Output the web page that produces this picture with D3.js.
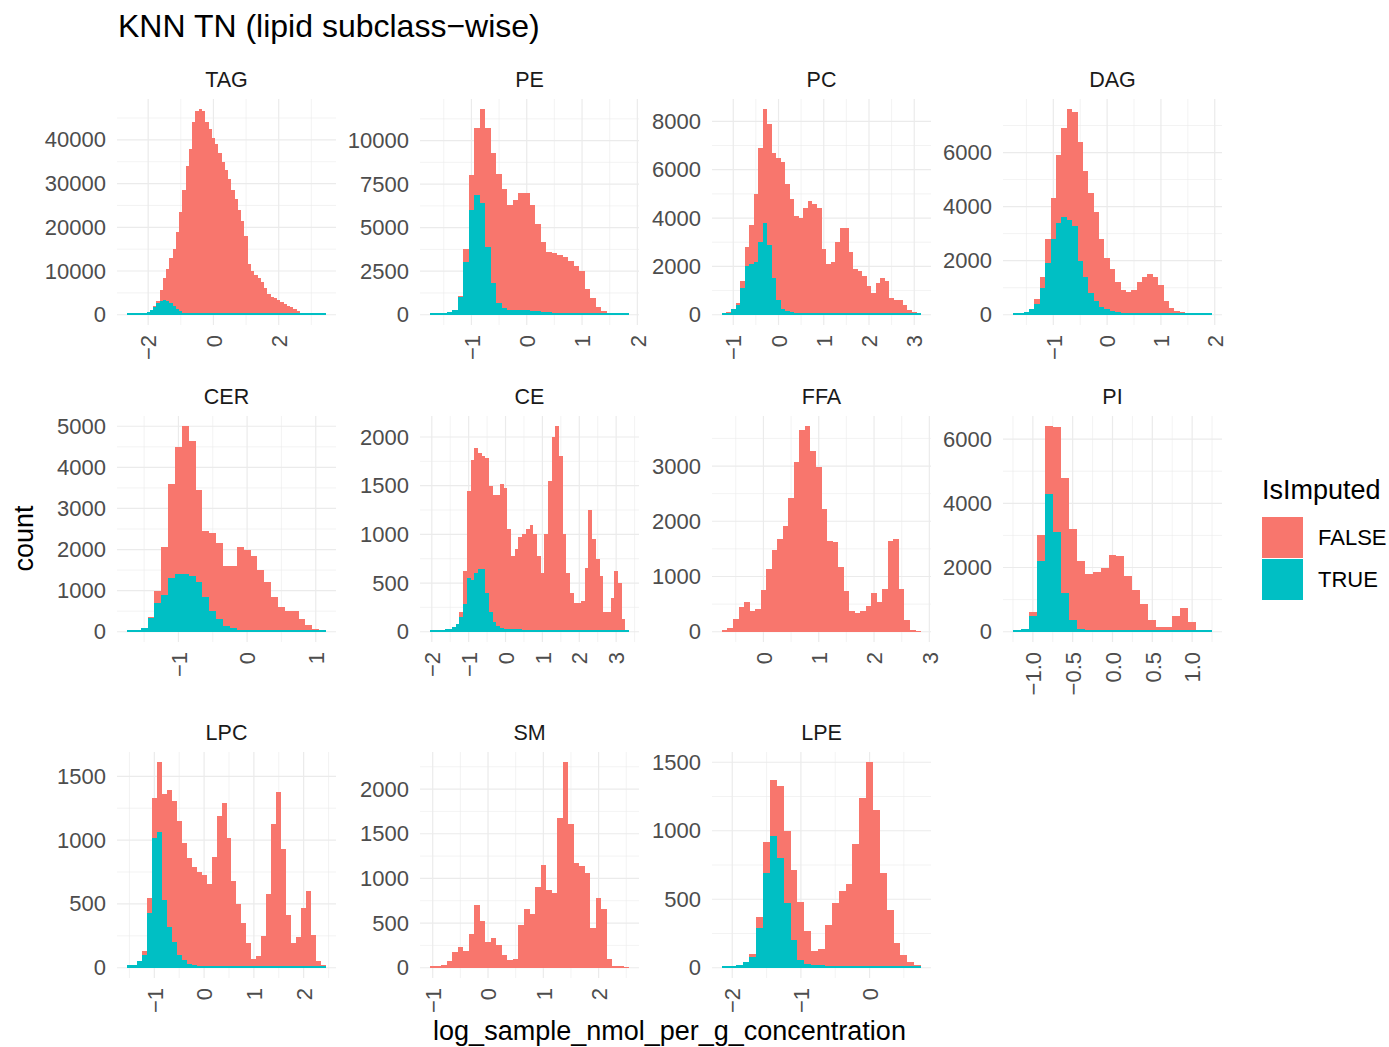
<!DOCTYPE html>
<html>
<head>
<meta charset="utf-8">
<script src="https://cdn.jsdelivr.net/npm/d3@7"></script>
<style>
  body { margin: 0; background: #fff; }
  text { font-family: "Liberation Sans", Arial, sans-serif; }
</style>
</head>
<body>
<script>
// ---- data (counts, bins are 0.1 wide) ----
var subclasses = ["TAG", "PE", "PC", "DAG", "CER", "CE", "FFA", "PI", "LPC", "SM", "LPE"];
var imputedLevels = ["FALSE", "TRUE"];
var binWidth = 0.1;
// lower edge of the first bin of each facet
var binStarts = [-2.65, -1.75, -1.25, -1.75, -1.75, -2.05, -0.75, -1.25, -1.55, -1.05, -2.15];

var tagFalse = [0,0,0,0,0,0,0,50,300,500,2400,5200,7300,10300,13000,17700,22700,28000,33700,37800,43850,46380,46900,46400,43920,42420,40440,38940,36950,34950,32950,30960,28460,26460,23970,21470,17970,11470,9970,8970,8480,7480,5980,4780,3980,3780,3380,2880,2480,2080,1680,1280,880,480,280,130,60,20,10,0,0];
var tagTrue = [50,50,80,150,250,400,600,1000,1700,2600,3200,3300,3200,2700,2000,1300,800,500,300,200,150,120,100,100,80,80,60,60,50,50,50,40,40,40,30,30,30,30,30,30,20,20,20,20,20,20,20,20,20,20,20,20,20,20,20,20,20,20,20,20,10];

var peFalse = [0,0,0,0,0,100,800,2000,3800,5400,6800,7500,7400,6800,6000,6350,6750,6750,6100,5000,4050,3450,3430,3330,3200,3000,2720,2420,1440,920,390,200,70,40,20,10];
var peTrue = [30,50,80,150,300,1000,3000,6000,6900,6400,3900,1800,700,400,300,250,250,250,200,200,150,150,120,120,100,100,80,80,60,50,40,30,30,20,20,10];

var pcFalse = [0,10,30,100,300,800,1600,2800,3900,4700,5000,5200,5900,6050,5250,4700,4020,3940,4350,4660,4560,4370,2670,2070,2170,2970,3580,3580,2580,1880,1780,1580,1180,880,1280,1480,1380,680,580,580,380,180,80,20];
var pcTrue = [30,90,220,400,1100,2000,2100,2200,3000,3800,2900,1500,600,250,150,100,80,60,50,40,40,30,30,30,30,30,20,20,20,20,20,20,20,20,20,20,20,20,20,20,20,20,20,20];

var dagFalse = [0,0,0,0,200,400,900,1500,2500,3300,4100,4200,4400,3900,3700,3300,2500,1900,1550,1100,820,790,850,1150,1360,1460,1370,1070,480,230,130,80,40,25,20,10,0];
var dagTrue = [30,60,100,200,400,1000,1900,2800,3400,3600,3500,3300,2000,1400,800,500,300,200,150,100,80,60,50,50,40,40,30,30,20,20,20,20,20,15,10,10,10];

var cerFalse = [0,0,0,40,300,1150,2300,3100,3600,3300,2250,1600,1900,1850,1450,1520,2000,1940,1820,1470,1170,820,580,480,480,300,150,40,0];
var cerTrue = [30,50,100,330,700,900,1300,1400,1400,1350,1200,850,500,300,150,80,50,40,30,30,30,30,20,20,20,20,20,20,20];

var ceFalse = [0,0,0,0,0,0,0,0,50,340,900,1230,1290,1200,1160,1380,1300,1300,1340,1480,1450,1020,750,820,940,980,1030,1080,980,760,580,980,1530,1980,2090,1780,980,580,380,280,280,300,630,1230,930,730,550,180,180,330,600,480,110,0];
var ceTrue = [20,20,20,20,25,30,50,80,150,280,550,530,600,640,640,400,200,100,60,40,30,30,30,30,30,20,20,20,20,20,20,20,20,20,20,20,20,20,20,20,20,20,20,20,20,20,20,20,20,20,20,20,20,20];

var ffaFalse = [30,70,230,450,530,370,420,750,1130,1480,1670,1920,2420,3070,3650,3720,3270,2980,2220,1650,1630,1170,730,380,340,370,470,700,530,770,1650,1670,770,220,40,20];
var ffaTrue = [0,0,0,0,0,0,0,0,0,0,0,0,0,0,0,0,0,0,0,0,0,0,0,0,0,0,0,0,0,0,0,0,0,0,0,0];

var piFalse = [0,0,120,800,2100,3280,3600,2850,2100,1750,1810,1970,2370,2320,1730,1280,830,330,130,130,480,710,280,30,0];
var piTrue = [20,80,500,2200,4300,3100,1200,350,100,50,40,30,30,30,20,20,20,20,20,20,20,20,20,20,20];

var lpcFalse = [0,0,0,30,120,310,550,830,1070,1110,1050,920,830,770,740,720,650,860,1180,1280,1010,670,490,340,180,60,80,240,570,1120,1370,920,400,180,230,460,590,250,40,10];
var lpcTrue = [20,20,50,100,430,1020,1060,530,320,200,100,60,30,20,10,10,10,10,10,10,10,10,10,10,10,10,10,10,10,10,10,10,10,10,10,10,10,10,10,10];

var smFalse = [20,20,30,70,180,230,190,380,700,520,290,330,250,140,90,100,480,660,600,900,1150,870,840,1680,2300,1610,1170,1140,1060,440,780,660,100,20,15,10];
var smTrue = [0,0,0,0,0,0,0,0,0,0,0,0,0,0,0,0,0,0,0,0,0,0,0,0,0,0,0,0,0,0,0,0,0,0,0,0];

var lpeFalse = [0,0,0,0,20,80,230,410,530,530,510,420,240,100,120,295,455,550,600,890,1230,1490,1140,680,410,170,80,30,10];
var lpeTrue = [5,10,20,40,80,290,690,960,800,470,200,60,30,20,20,15,15,10,10,10,10,10,10,10,10,10,10,10,10];

var falseCounts = [tagFalse, peFalse, pcFalse, dagFalse, cerFalse, ceFalse, ffaFalse, piFalse, lpcFalse, smFalse, lpeFalse];
var trueCounts = [tagTrue, peTrue, pcTrue, dagTrue, cerTrue, ceTrue, ffaTrue, piTrue, lpcTrue, smTrue, lpeTrue];

var xTickValues = [[-2,0,2], [-1,0,1,2], [-1,0,1,2,3], [-1,0,1,2], [-1,0,1], [-2,-1,0,1,2,3],
                   [0,1,2,3], [-1,-0.5,0,0.5,1], [-1,0,1,2], [-1,0,1,2], [-2,-1,0]];
var yTickValues = [[0,10000,20000,30000,40000], [0,2500,5000,7500,10000], [0,2000,4000,6000,8000],
                   [0,2000,4000,6000], [0,1000,2000,3000,4000,5000], [0,500,1000,1500,2000],
                   [0,1000,2000,3000], [0,2000,4000,6000], [0,500,1000,1500], [0,500,1000,1500,2000],
                   [0,500,1000,1500]];

// ---- layout ----
var colLeft = [117, 420, 712, 1003];
var rowTop = [99, 416, 752];
var panelW = 219, panelH = 226;
var gridCol = "#EBEBEB";

var svg = d3.select("body").append("svg")
  .attr("width", 1389)
  .attr("height", 1047)
  .style("display", "block");

var fill = d3.scaleOrdinal().domain(imputedLevels).range(["#F8766D", "#00BFC4"]);
var fmtInt = d3.format("d"), fmtDec = d3.format(".1f");

function minorBreaks(ticks, dom) {
  var step = ticks[1] - ticks[0], out = [];
  for (var k = -1; k < ticks.length; k++) {
    var v = ticks[0] + step * k + step / 2;
    if (v >= dom[0] && v <= dom[1]) out.push(v);
  }
  return out;
}

subclasses.forEach(function(name, p) {
  var left = colLeft[p % 4], top = rowTop[Math.floor(p / 4)];
  var fc = falseCounts[p], tc = trueCounts[p], n = fc.length;
  var x0 = binStarts[p], x1 = x0 + n * binWidth, xpad = 0.05 * (x1 - x0);
  var x = d3.scaleLinear().domain([x0 - xpad, x1 + xpad]).range([left, left + panelW]);
  var ymax = d3.max(fc, function(d, i) { return d + tc[i]; });
  var y = d3.scaleLinear().domain([-0.05 * ymax, 1.05 * ymax]).range([top + panelH, top]);
  var hasTrue = d3.max(tc) > 0;

  var g = svg.append("g");

  // grid: minor then major
  g.selectAll(".vminor").data(minorBreaks(xTickValues[p], x.domain())).enter().append("line")
    .attr("x1", function(d) { return x(d); }).attr("x2", function(d) { return x(d); })
    .attr("y1", top).attr("y2", top + panelH)
    .attr("stroke", gridCol).attr("stroke-width", 0.6);
  g.selectAll(".hminor").data(minorBreaks(yTickValues[p], y.domain())).enter().append("line")
    .attr("y1", function(d) { return y(d); }).attr("y2", function(d) { return y(d); })
    .attr("x1", left).attr("x2", left + panelW)
    .attr("stroke", gridCol).attr("stroke-width", 0.6);
  g.selectAll(".vmajor").data(xTickValues[p]).enter().append("line")
    .attr("x1", function(d) { return x(d); }).attr("x2", function(d) { return x(d); })
    .attr("y1", top).attr("y2", top + panelH)
    .attr("stroke", gridCol).attr("stroke-width", 1.2);
  g.selectAll(".hmajor").data(yTickValues[p]).enter().append("line")
    .attr("y1", function(d) { return y(d); }).attr("y2", function(d) { return y(d); })
    .attr("x1", left).attr("x2", left + panelW)
    .attr("stroke", gridCol).attr("stroke-width", 1.2);

  var bins = fc.map(function(f, i) {
    return { lo: x0 + i * binWidth, hi: x0 + (i + 1) * binWidth, f: f, t: tc[i] };
  });

  // FALSE stacked on top of TRUE
  g.selectAll(".barF").data(bins).enter().append("rect")
    .attr("x", function(d) { return x(d.lo); })
    .attr("width", function(d) { return x(d.hi) - x(d.lo); })
    .attr("y", function(d) { return y(d.t + d.f); })
    .attr("height", function(d) { return y(d.t) - y(d.t + d.f); })
    .attr("fill", fill("FALSE"))
    .attr("shape-rendering", "crispEdges");
  if (hasTrue) {
    g.selectAll(".barT").data(bins).enter().append("rect")
      .attr("x", function(d) { return x(d.lo); })
      .attr("width", function(d) { return x(d.hi) - x(d.lo); })
      .attr("y", function(d) { return Math.min(y(d.t), y(0) - 2); })
      .attr("height", function(d) { return Math.max(y(0) - y(d.t), 2); })
      .attr("fill", fill("TRUE"))
      .attr("shape-rendering", "crispEdges");
  }

  // axes
  var gy = g.append("g").attr("transform", "translate(" + left + ",0)")
    .call(d3.axisLeft(y).tickValues(yTickValues[p]).tickSize(0).tickPadding(11).tickFormat(fmtInt));
  gy.select(".domain").remove();
  gy.attr("font-size", 22);
  gy.selectAll("text").attr("fill", "#4D4D4D");

  var gx = g.append("g").attr("transform", "translate(0," + (top + panelH) + ")")
    .call(d3.axisBottom(x).tickValues(xTickValues[p]).tickSize(0).tickFormat(p === 7 ? fmtDec : fmtInt));
  gx.select(".domain").remove();
  gx.attr("font-size", 22);
  gx.selectAll("text")
    .attr("transform", "rotate(-90)")
    .attr("x", -10).attr("y", 0).attr("dy", "0.35em")
    .style("text-anchor", "end")
    .attr("fill", "#4D4D4D");

  // strip label
  g.append("text")
    .attr("x", left + panelW / 2).attr("y", top - 12)
    .attr("text-anchor", "middle")
    .attr("font-size", 21.5).attr("fill", "#1A1A1A")
    .text(name);
});

// titles
svg.append("text").attr("x", 118).attr("y", 37)
  .attr("font-size", 32).attr("fill", "#000")
  .text("KNN TN (lipid subclass\u2212wise)");

svg.append("text").attr("x", 669.5).attr("y", 1040)
  .attr("text-anchor", "middle").attr("font-size", 27).attr("fill", "#000")
  .text("log_sample_nmol_per_g_concentration");

svg.append("text").attr("transform", "translate(33,538.5) rotate(-90)")
  .attr("text-anchor", "middle").attr("font-size", 27).attr("fill", "#000")
  .text("count");

// legend
var leg = svg.append("g").attr("transform", "translate(1262,0)");
leg.append("text").attr("x", 0).attr("y", 499)
  .attr("font-size", 27).attr("fill", "#000").text("IsImputed");
leg.selectAll(".key").data(imputedLevels).enter().append("rect")
  .attr("x", 0).attr("y", function(d, i) { return 517 + i * 42; })
  .attr("width", 41).attr("height", 41)
  .attr("fill", function(d) { return fill(d); });
leg.selectAll(".lab").data(imputedLevels).enter().append("text")
  .attr("x", 56).attr("y", function(d, i) { return 537.5 + i * 42; })
  .attr("dy", "0.35em")
  .attr("font-size", 22).attr("fill", "#000")
  .text(function(d) { return d; });
</script>
</body>
</html>
